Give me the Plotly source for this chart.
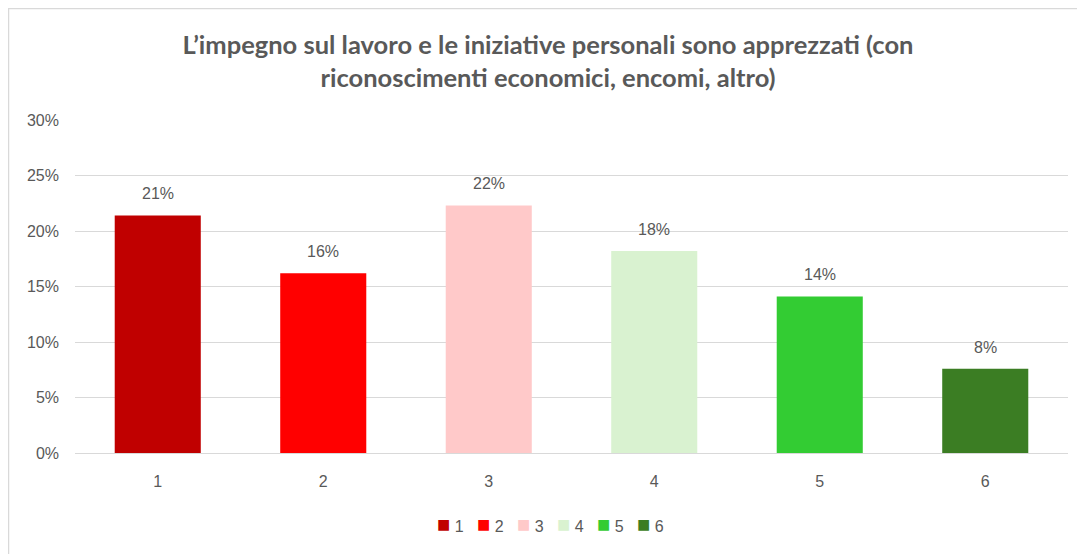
import plotly.graph_objects as go

categories = ["1", "2", "3", "4", "5", "6"]
values = [0.214, 0.162, 0.223, 0.182, 0.141, 0.076]
colors = ["#C00000", "#FF0000", "#FFC9C9", "#D9F2D0", "#33CC33", "#3B7D23"]
tick_vals = [0, 0.05, 0.10, 0.15, 0.20, 0.25, 0.30]
tick_text = ["0%", "5%", "10%", "15%", "20%", "25%", "30%"]
title = "L’impegno sul lavoro e le iniziative personali sono apprezzati (con<br>riconoscimenti economici, encomi, altro)"

W, H = 1077, 546
ml, mr, mt, mb = 67, 17, 112, 101
pw = W - ml - mr
ph = H - mt - mb
TXT = "#595959"
FONT = "Liberation Sans, Arial, sans-serif"

def px_x(p):
    return (p - ml) / pw

def px_y(p):
    return (H - mb - p) / ph

fig = go.Figure()
for cat, val, col in zip(categories, values, colors):
    fig.add_trace(go.Bar(
        x=[cat], y=[val], name=cat,
        marker=dict(color=col, line=dict(width=0)),
        width=0.52,
        showlegend=False,
    ))

annotations = []
for i, val in enumerate(values):
    annotations.append(dict(
        x=i, y=val, xref="x", yref="y", text=f"{val:.0%}",
        showarrow=False, yanchor="bottom", yshift=11,
        font=dict(family=FONT, size=16, color=TXT),
    ))

legend_parts = []
for cat, col in zip(categories, colors):
    legend_parts.append(
        f"<span style='color:{col};font-size:22px'>■</span>\u00a0{cat}"
    )
legend_text = "\u00a0\u00a0\u00a0".join(legend_parts)
annotations.append(dict(
    x=px_x(542), y=px_y(516), xref="paper", yref="paper", text=legend_text,
    showarrow=False, xanchor="center", yanchor="middle",
    font=dict(family=FONT, size=16, color=TXT),
))

fig.update_layout(
    width=W, height=H,
    margin=dict(l=ml, r=mr, t=mt, b=mb),
    paper_bgcolor="white", plot_bgcolor="white",
    barmode="overlay",
    title=dict(text=title, x=540 / W, xanchor="center", y=1 - 46 / H, yanchor="middle",
               font=dict(family="Lato, Open Sans, sans-serif", size=25.5, color=TXT, weight="bold")),
    xaxis=dict(categoryorder="array", categoryarray=categories, range=[-0.5, 5.5],
               showgrid=False, showline=True, linecolor="#D9D9D9", linewidth=1, ticks="",
               tickfont=dict(family=FONT, size=16, color=TXT),
               ticklabelstandoff=14),
    yaxis=dict(range=[0, 0.30], tickvals=tick_vals, ticktext=tick_text,
               showgrid=True, gridcolor="#D9D9D9", gridwidth=1, zeroline=False,
               tickfont=dict(family=FONT, size=16, color=TXT),
               ticklabelstandoff=15),
    showlegend=False,
    annotations=annotations,
    shapes=[
        dict(type="line", xref="paper", yref="paper", x0=px_x(0), x1=px_x(W), y0=px_y(0.5), y1=px_y(0.5),
             line=dict(color="#D9D9D9", width=1.5)),
        dict(type="line", xref="paper", yref="paper", x0=px_x(0.5), x1=px_x(0.5), y0=px_y(0), y1=px_y(H),
             line=dict(color="#D9D9D9", width=1.5)),
    ],
)

fig.write_html("out.html")
